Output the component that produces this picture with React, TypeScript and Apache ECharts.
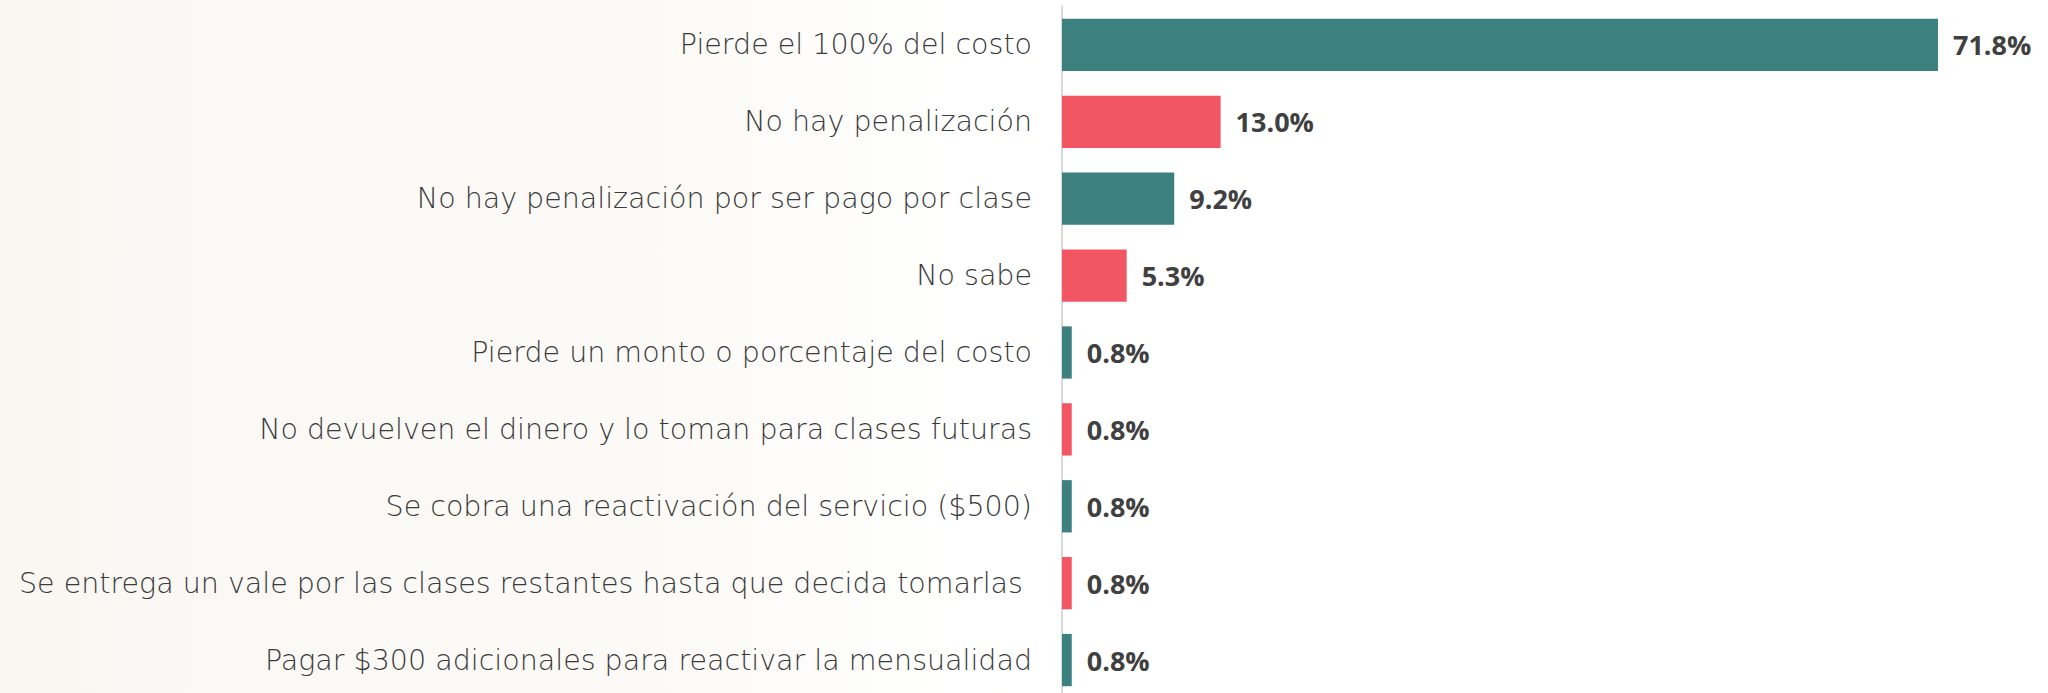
import React, { useEffect, useRef } from "react";
import * as echarts from "echarts";

const categories = [
  "Pierde el 100% del costo",
  "No hay penalización",
  "No hay penalización por ser pago por clase",
  "No sabe",
  "Pierde un monto o porcentaje del costo",
  "No devuelven el dinero y lo toman para clases futuras",
  "Se cobra una reactivación del servicio ($500)",
  "Se entrega un vale por las clases restantes hasta que decida tomarlas ",
  "Pagar $300 adicionales para reactivar la mensualidad",
];
const values = [71.8, 13.0, 9.2, 5.3, 0.8, 0.8, 0.8, 0.8, 0.8];
const palette = ["#3C8180", "#F15662"];

export default function App() {
  const ref = useRef<HTMLDivElement>(null);
  useEffect(() => {
    document.body.style.overflow = "hidden";
    const chart = echarts.init(ref.current!, undefined, { renderer: "svg" });
    chart.setOption({
      animation: false,
      backgroundColor: "#ffffff",
      graphic: [
        {
          type: "rect",
          left: 0,
          top: 0,
          shape: { width: 1060, height: 693 },
          silent: true,
          z: -10,
          style: {
            fill: new echarts.graphic.LinearGradient(0, 0, 1, 0, [
              { offset: 0, color: "#faf7f3" },
              { offset: 0.7, color: "#fcfbf8" },
              { offset: 1, color: "rgba(255,255,255,0)" },
            ]),
          },
        },
      ],
      grid: { left: 1062, top: 6.5, width: 976, height: 692, outerBoundsMode: "none" },
      xAxis: { type: "value", min: 0, max: 80, show: false },
      yAxis: {
        type: "category",
        inverse: true,
        data: categories,
        axisLine: { show: true, lineStyle: { color: "#d9d9d9", width: 2 } },
        axisTick: { show: false },
        splitLine: { show: false },
        axisLabel: {
          margin: 30,
          fontSize: 28.5,
          fontFamily: "DejaVu Sans",
          fontWeight: 300,
          color: "#3a3a3a",
        },
      },
      series: [
        {
          type: "bar",
          barCategoryGap: "32%",
          data: values.map((v, i) => ({
            value: v,
            itemStyle: { color: palette[i % 2] },
          })),
          label: {
            show: true,
            position: "right",
            distance: 15,
            fontSize: 27,
            fontWeight: "bold",
            fontFamily: "Open Sans",
            color: "#404040",
            formatter: (p: any) => p.value.toFixed(1) + "%",
          },
        },
      ],
    });
    return () => chart.dispose();
  }, []);
  return (
    <div
      ref={ref}
      style={{ position: "absolute", left: 0, top: 0, width: 2048, height: 693 }}
    />
  );
}
